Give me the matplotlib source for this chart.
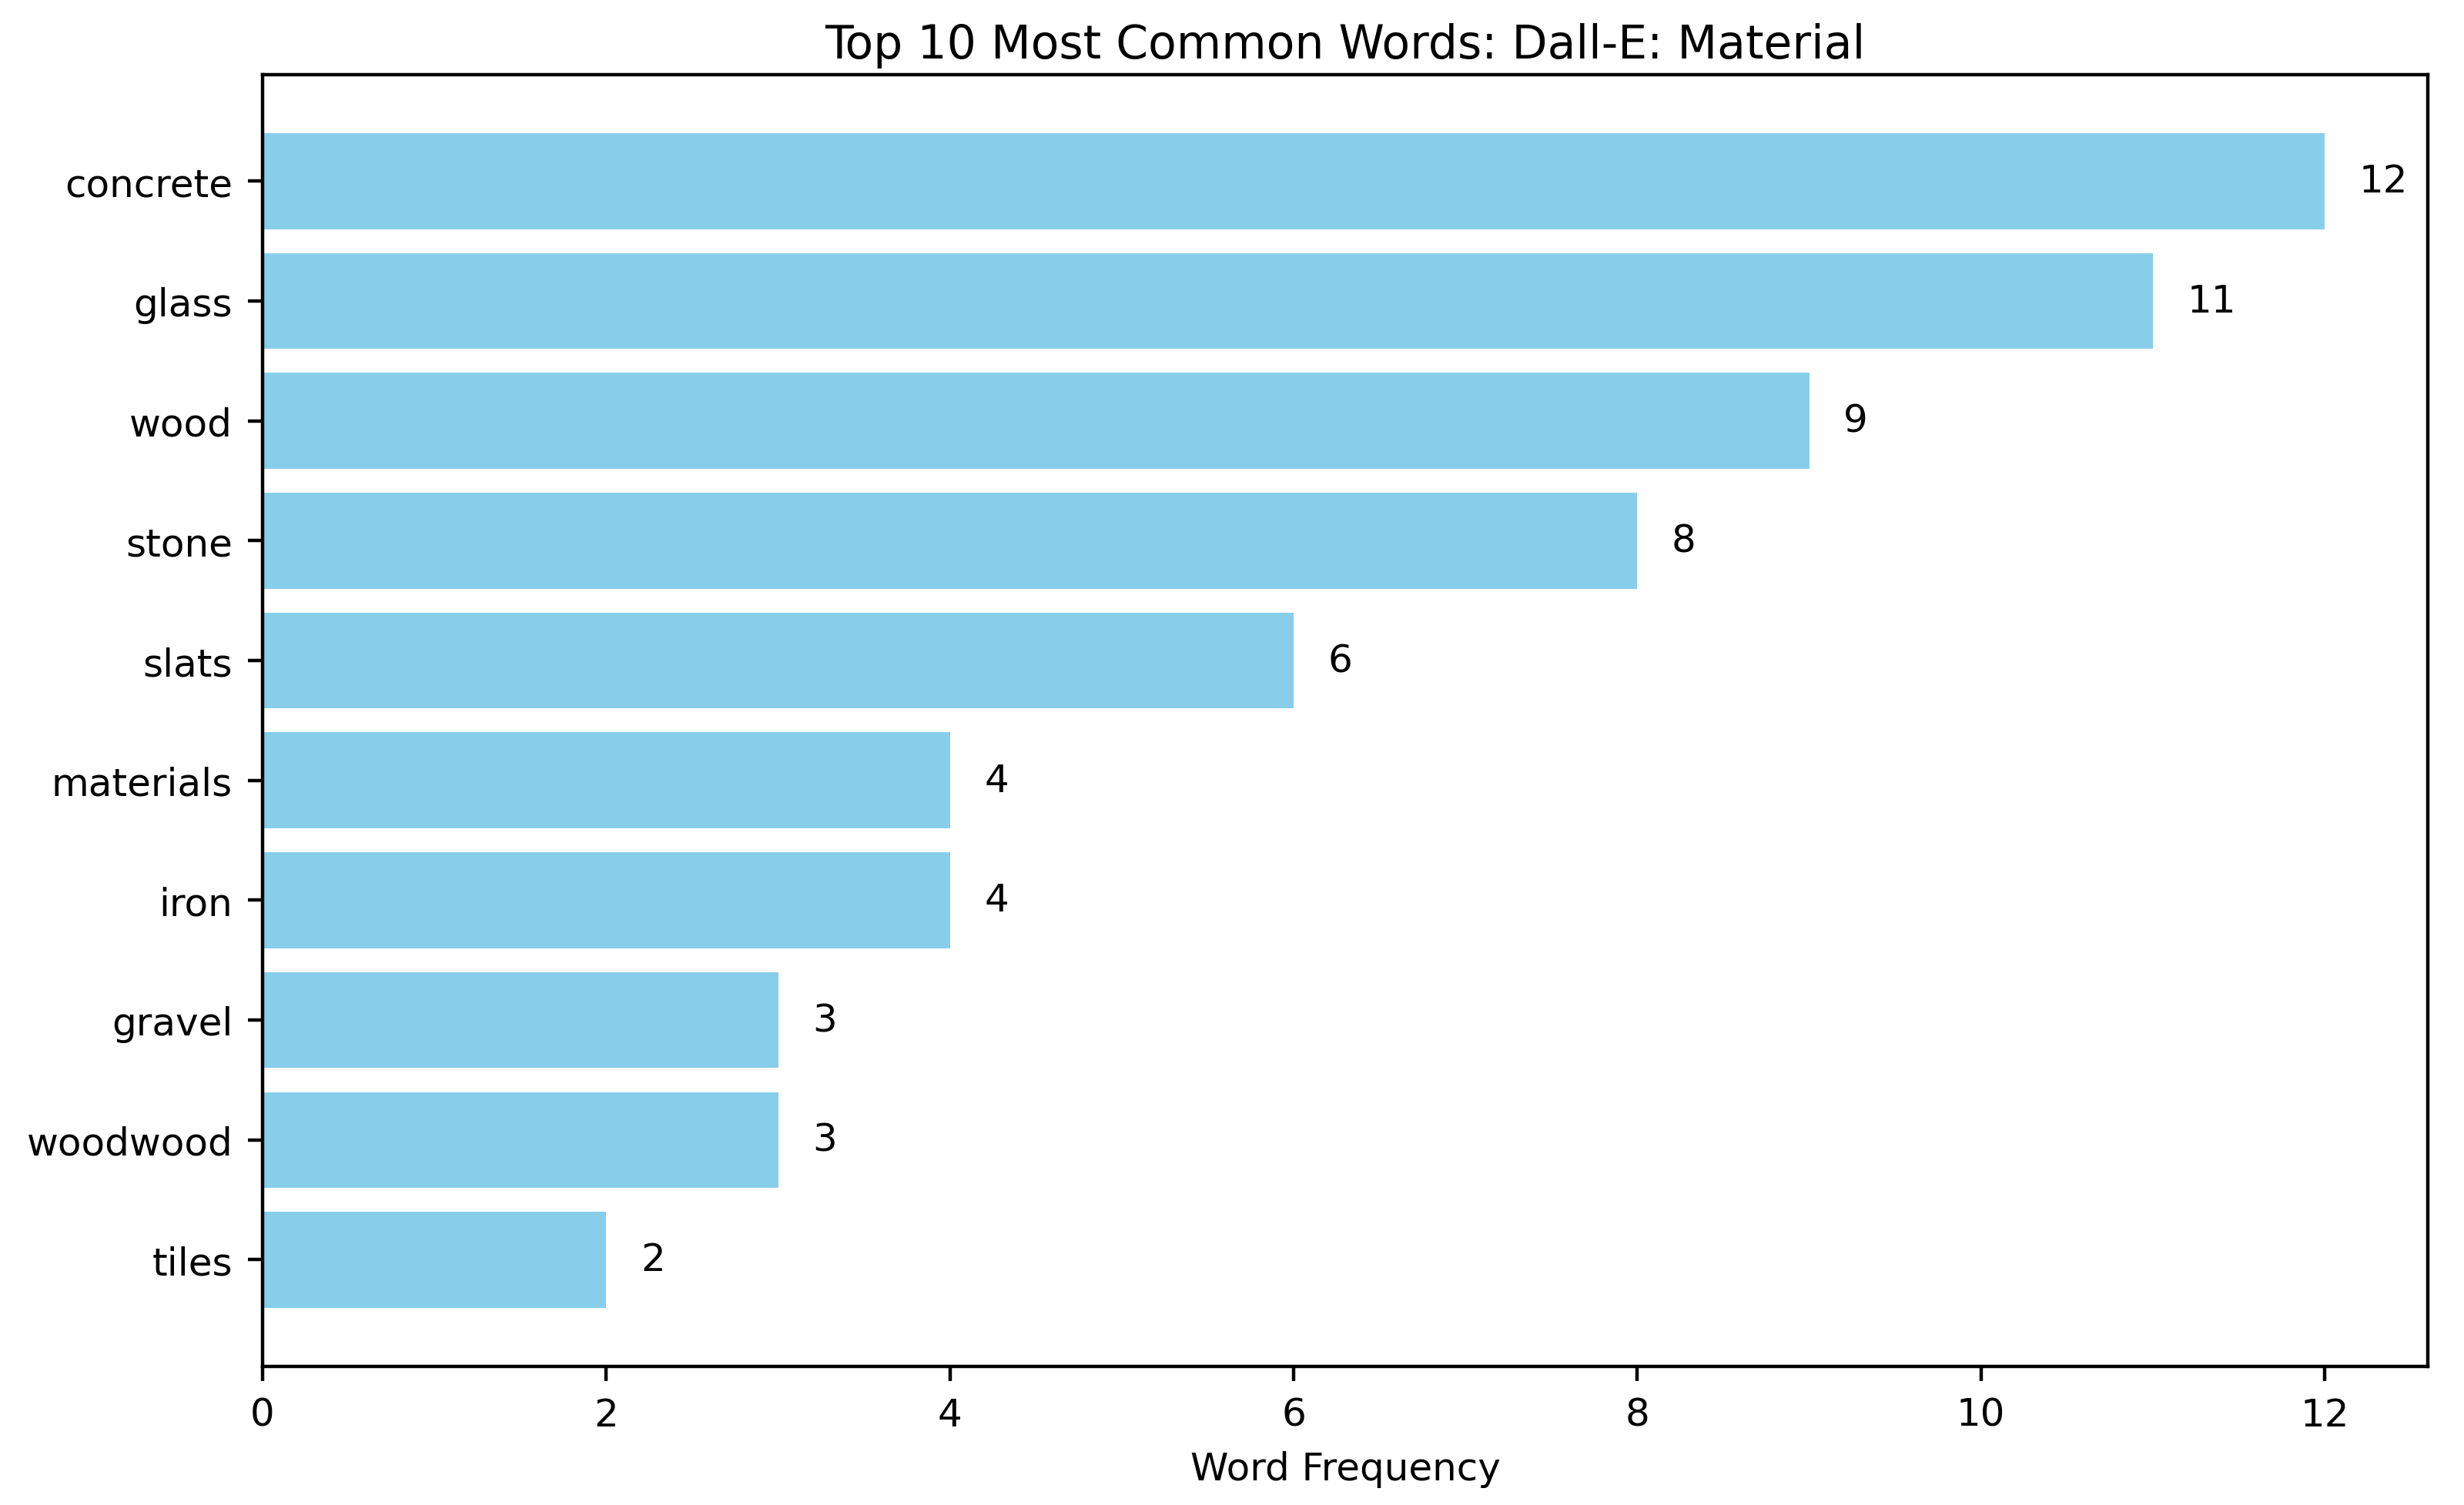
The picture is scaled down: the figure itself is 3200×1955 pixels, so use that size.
import matplotlib
matplotlib.use("Agg")
import matplotlib.pyplot as plt

# top 10 words for the Dall-E material prompts
words = ['concrete', 'glass', 'wood', 'stone', 'slats', 'materials', 'iron', 'gravel', 'woodwood', 'tiles']
counts = [12, 11, 9, 8, 6, 4, 4, 3, 3, 2]

plt.rcParams['font.size'] = 9

fig = plt.figure(figsize=(8, 4.89), dpi=400)
ax = fig.add_axes([0.1066, 0.092, 0.8787, 0.858])

# reverse so the most common word ends up on top
bars = ax.barh(words[::-1], counts[::-1], color='skyblue')
for b, c in zip(bars, counts[::-1]):
    ax.text(b.get_width() + 0.2, b.get_y() + b.get_height() / 2, str(c), va='center')

ax.set_xlabel('Word Frequency')
ax.set_title('Top 10 Most Common Words: Dall-E: Material', fontsize=10.8, pad=4)

fig.savefig('out.png', dpi=400)
